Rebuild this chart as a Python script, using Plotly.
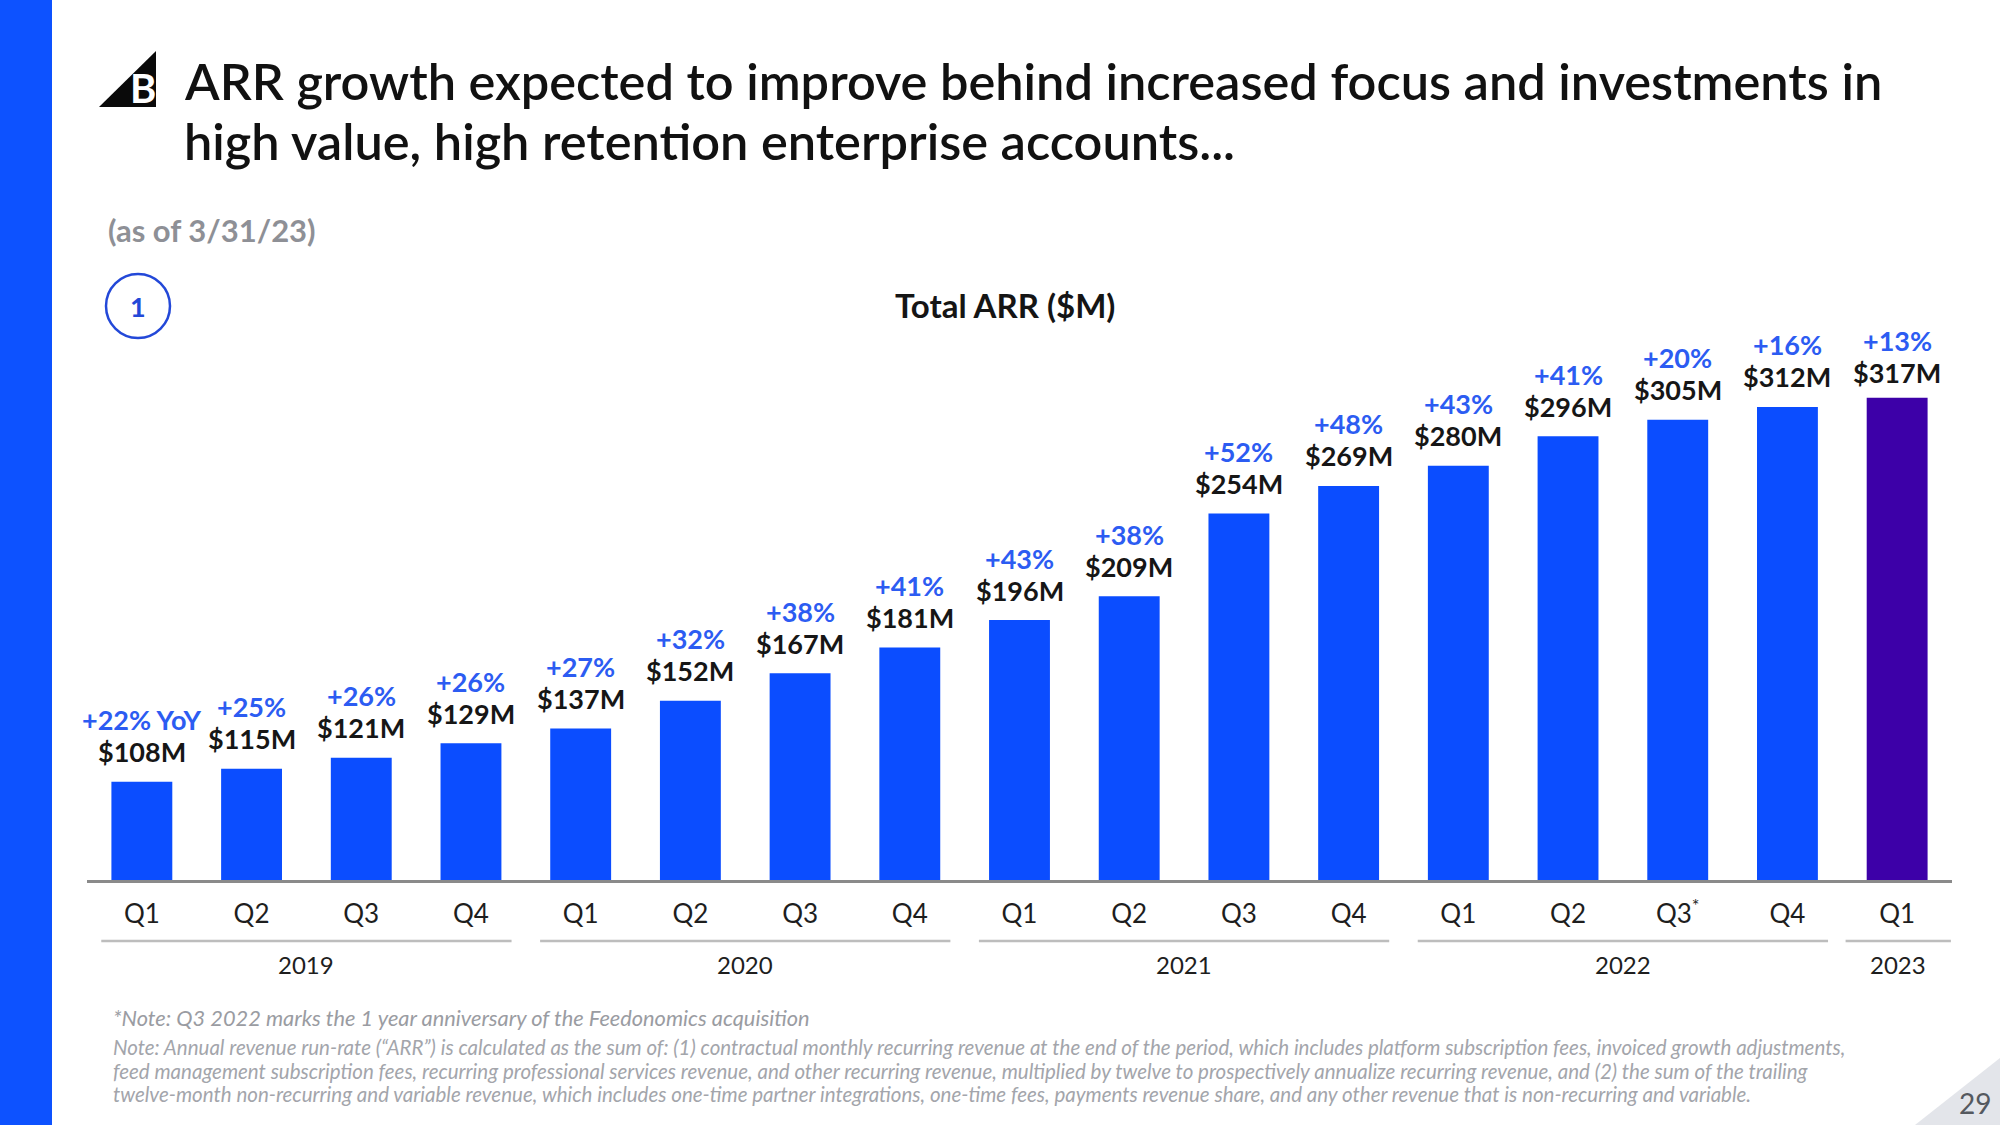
import plotly.graph_objects as go

# ---------------- data ----------------
quarters = ["Q1", "Q2", "Q3", "Q4", "Q1", "Q2", "Q3", "Q4", "Q1", "Q2", "Q3", "Q4",
            "Q1", "Q2", "Q3<sup>*</sup>", "Q4", "Q1"]
years = ["2019", "2020", "2021", "2022", "2023"]
year_quarter_counts = [4, 4, 4, 4, 1]
arr_values = [108, 115, 121, 129, 137, 152, 167, 181, 196, 209, 254, 269, 280, 296, 305, 312, 317]
value_labels = ["$108M", "$115M", "$121M", "$129M", "$137M", "$152M", "$167M", "$181M", "$196M",
                "$209M", "$254M", "$269M", "$280M", "$296M", "$305M", "$312M", "$317M"]
yoy_labels = ["+22% YoY", "+25%", "+26%", "+26%", "+27%", "+32%", "+38%", "+41%", "+43%",
              "+38%", "+52%", "+48%", "+43%", "+41%", "+20%", "+16%", "+13%"]

title_lines = ["ARR growth expected to improve behind increased focus and investments in",
               "high value, high retention enterprise accounts..."]
subtitle_text = "(as of 3/31/23)"
chart_title = "Total ARR ($M)"
footnote_1 = "*Note: Q3 2022 marks the 1 year anniversary of the Feedonomics acquisition"
footnote_2 = [
    "Note: Annual revenue run-rate (“ARR”) is calculated as the sum of: (1) contractual monthly recurring revenue at the end of the period, which includes platform subscription fees, invoiced growth adjustments,",
    "feed management subscription fees, recurring professional services revenue, and other recurring revenue, multiplied by twelve to prospectively annualize recurring revenue, and (2) the sum of the trailing",
    "twelve-month non-recurring and variable revenue, which includes one-time partner integrations, one-time fees, payments revenue share, and any other revenue that is non-recurring and variable.",
]
page_number = "29"

# ---------------- styling ----------------
W, H = 2000, 1125
BLUE = "#0b4dff"
PURPLE = "#3d00a8"
PCT_BLUE = "#2c5cf2"
FONT = "Lato"


def px(x):
    return x / W


def py(y):
    return 1 - y / H


n = len(arr_values)
x_idx = list(range(n))
bar_colors = [BLUE] * (n - 1) + [PURPLE]

fig = go.Figure()
fig.add_trace(go.Bar(
    x=x_idx, y=arr_values, marker=dict(color=bar_colors, line=dict(width=0)),
    width=0.555, hoverinfo="skip", showlegend=False,
))

annotations = []
for i in range(n):
    last = i == n - 1
    annotations.append(dict(
        x=i, y=arr_values[i], xref="x", yref="y", text=f"<b>{value_labels[i]}</b>",
        showarrow=False, yanchor="middle", yshift=25 if last else 30,
        font=dict(family=FONT, size=27, color="#161616"),
    ))
    annotations.append(dict(
        x=i, y=arr_values[i], xref="x", yref="y", text=f"<b>{yoy_labels[i]}</b>",
        showarrow=False, yanchor="middle", yshift=57 if last else 62,
        font=dict(family=FONT, size=27, color=PCT_BLUE),
    ))

shapes = []
# year group lines and labels
start = 0
for yr, cnt in zip(years, year_quarter_counts):
    x0 = start - 0.37
    x1 = start + cnt - 1 + 0.37
    if yr == years[-1]:
        x1 = start + cnt - 1 + 0.49
        x0 = start - 0.47
    shapes.append(dict(type="line", xref="x", yref="paper", x0=x0, x1=x1,
                       y0=py(941), y1=py(941), line=dict(color="#bdbdbd", width=2.5)))
    annotations.append(dict(x=(x0 + x1) / 2, y=py(964), xref="x", yref="paper", text=yr,
                            showarrow=False, yanchor="middle",
                            font=dict(family=FONT, size=24, color="#1e1e1e")))
    start += cnt

# left stripe
shapes.append(dict(type="rect", xref="paper", yref="paper", x0=0, x1=px(52), y0=0, y1=1,
                   fillcolor="#0d52ff", line=dict(width=0), layer="below"))
# logo triangle
shapes.append(dict(type="path", xref="paper", yref="paper",
                   path=f"M {px(99)},{py(107)} L {px(156)},{py(51)} L {px(156)},{py(107)} Z",
                   fillcolor="#0a0a0a", line=dict(width=0)))
# circle "1"
shapes.append(dict(type="circle", xref="paper", yref="paper",
                   x0=px(138 - 32), x1=px(138 + 32), y0=py(306 + 32), y1=py(306 - 32),
                   line=dict(color="#2348d8", width=2.5), fillcolor="white"))
# corner triangle
shapes.append(dict(type="path", xref="paper", yref="paper",
                   path=f"M {px(1915)},{py(1125)} L {px(2000)},{py(1058)} L {px(2000)},{py(1125)} Z",
                   fillcolor="#e3e5ea", line=dict(width=0), layer="below"))

for k, tl in enumerate(title_lines):
    annotations.append(dict(x=px(182), y=py(80 + 60 * k), xref="paper", yref="paper", text=tl,
                            showarrow=False, xanchor="left", yanchor="middle", align="left",
                            font=dict(family=FONT, size=50.5, color="#111111", weight=600)))

annotations += [
    dict(x=px(143), y=py(88), xref="paper", yref="paper", text="<b>B</b>", showarrow=False,
         xanchor="center", yanchor="middle", font=dict(family=FONT, size=40, color="white")),
    dict(x=px(106), y=py(230), xref="paper", yref="paper", text=f"<b>{subtitle_text}</b>",
         showarrow=False, xanchor="left", yanchor="middle",
         font=dict(family=FONT, size=31, color="#8e9096")),
    dict(x=px(138), y=py(306), xref="paper", yref="paper", text="<b>1</b>", showarrow=False,
         xanchor="center", yanchor="middle", font=dict(family=FONT, size=27, color="#2348d8")),
    dict(x=px(1005), y=py(305), xref="paper", yref="paper", text=f"<b>{chart_title}</b>",
         showarrow=False, xanchor="center", yanchor="middle",
         font=dict(family=FONT, size=33, color="#151515")),
    dict(x=px(111), y=py(1017), xref="paper", yref="paper", text=f"<i>{footnote_1}</i>",
         showarrow=False, xanchor="left", yanchor="middle",
         font=dict(family=FONT, size=21.8, color="#9a9ca2")),
    dict(x=px(1975), y=py(1103), xref="paper", yref="paper", text=page_number, showarrow=False,
         xanchor="center", yanchor="middle", font=dict(family=FONT, size=28, color="#55595f")),
]
for k, line in enumerate(footnote_2):
    annotations.append(dict(x=px(111), y=py(1047 + 23.5 * k), xref="paper", yref="paper",
                            text=f"<i>{line}</i>", showarrow=False, xanchor="left",
                            yanchor="middle",
                            font=dict(family=FONT, size=20.5, color="#a3a5ab")))

fig.update_layout(
    width=W, height=H, margin=dict(l=0, r=0, t=0, b=0),
    paper_bgcolor="white", plot_bgcolor="white",
    xaxis=dict(domain=[px(87), px(1952)], range=[-0.5, n - 0.5], tickmode="array",
               tickvals=x_idx, ticktext=quarters, showline=True, linecolor="#8a8a8a",
               linewidth=3, ticks="outside", ticklen=9, tickcolor="rgba(0,0,0,0)",
               showgrid=False, zeroline=False,
               tickfont=dict(family=FONT, size=26, color="#1e1e1e")),
    yaxis=dict(domain=[py(880), py(300)], range=[54.5, 370.2], visible=False,
               showgrid=False, zeroline=False),
    shapes=shapes, annotations=annotations, bargap=0.44,
)

fig.write_html("out.html", config={"displayModeBar": False},
               post_script="document.body.style.margin='0';document.body.style.overflow='hidden';")
